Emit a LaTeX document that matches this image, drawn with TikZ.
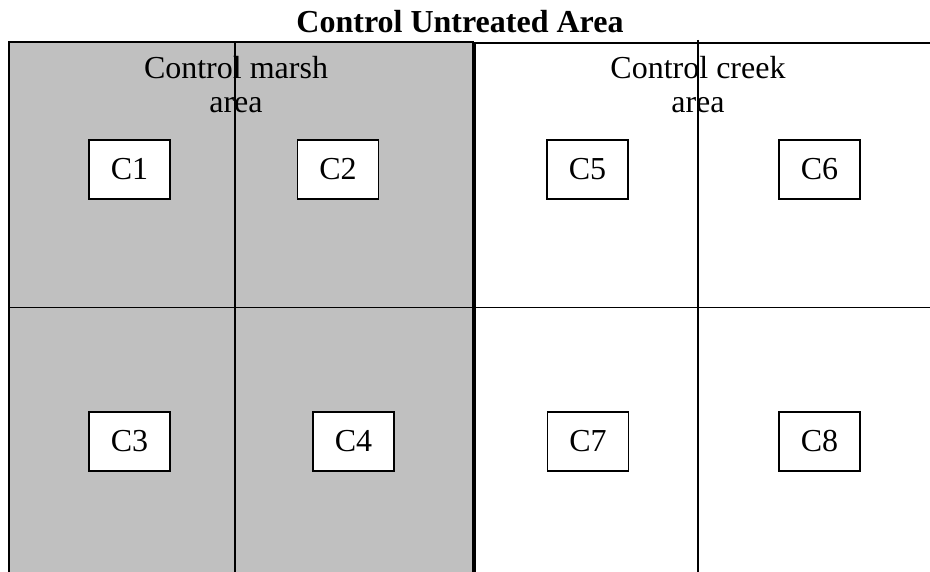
\documentclass[tikz,border=0pt]{standalone}
\usepackage{fontspec}
\setmainfont{Liberation Serif}
\definecolor{marshgray}{HTML}{C0C0C0}
\begin{document}
\begin{tikzpicture}[x=1pt,y=-1pt,
  gridline/.style={line width=1.5pt},
  border/.style={line width=1.8pt},
  plotbox/.style={draw, line width=1.6pt, fill=white, minimum width=81pt,
    minimum height=59pt, inner sep=0pt, font=\fontsize{32}{38}\selectfont},
  lbl/.style={font=\fontsize{32}{38}\selectfont, inner sep=0pt, anchor=base}]
\useasboundingbox (0,0) rectangle (930,572);
\fill[white] (0,0) rectangle (930,572);

% shaded marsh half and open creek half
\fill[marshgray] (9,42) rectangle (473,572);
\draw[border] (9,572) -- (9,42) -- (473,42) -- (473,572);
\draw[border] (475,572) -- (475,43) -- (930,43);

% plot divisions
\draw[gridline] (235,42) -- (235,572);
\draw[gridline] (698,40) -- (698,572);
\draw[gridline] (9,307.5) -- (930,307.5);

% headings
\node[lbl, font=\bfseries\fontsize{32}{38}\selectfont] (title) at (460,33) {Control Untreated Area};
\node[lbl] (marsh) at (236,79) {Control marsh};
\node[lbl] (marsharea) at (236,113) {area};
\node[lbl] (creek) at (698,79) {Control creek};
\node[lbl] (creekarea) at (698,113) {area};

% sampling plots
\node[plotbox] (c1) at (129.5,169.5) {C1};
\node[plotbox] (c2) at (338,169.5) {C2};
\node[plotbox] (c5) at (587.5,169.5) {C5};
\node[plotbox] (c6) at (819.5,169.5) {C6};
\node[plotbox] (c3) at (129.5,441.5) {C3};
\node[plotbox] (c4) at (353.5,441.5) {C4};
\node[plotbox] (c7) at (588,441.5) {C7};
\node[plotbox] (c8) at (819.5,441.5) {C8};
\end{tikzpicture}
\end{document}
